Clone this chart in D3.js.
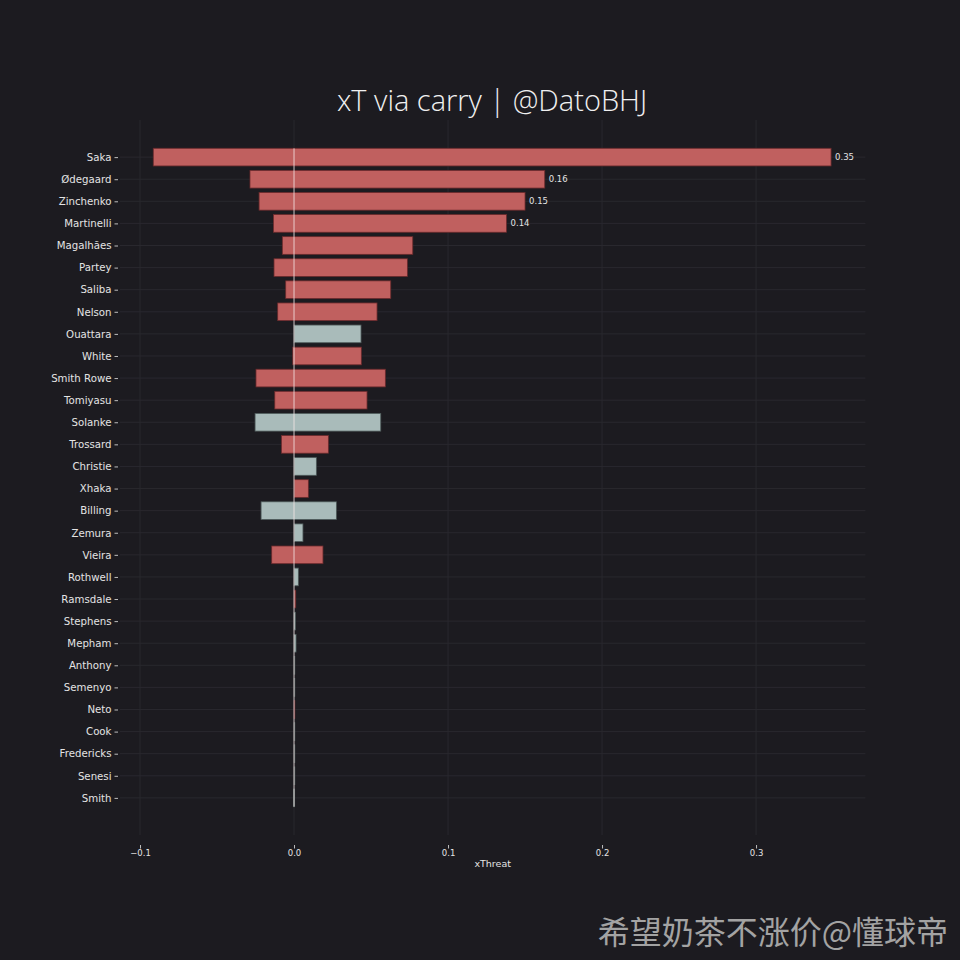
<!DOCTYPE html>
<html>
<head>
<meta charset="utf-8">
<script src="https://cdn.jsdelivr.net/npm/d3@7"></script>
<style>
  html, body { margin: 0; padding: 0; background: #1c1b20; }
  svg { display: block; }
</style>
</head>
<body>
<svg width="960" height="960"></svg>
<script>
// Data
const players = ["Saka", "Ødegaard", "Zinchenko", "Martinelli", "Magalhães", "Partey", "Saliba", "Nelson",
  "Ouattara", "White", "Smith Rowe", "Tomiyasu", "Solanke", "Trossard", "Christie", "Xhaka", "Billing",
  "Zemura", "Vieira", "Rothwell", "Ramsdale", "Stephens", "Mepham", "Anthony", "Semenyo", "Neto", "Cook",
  "Fredericks", "Senesi", "Smith"];
const xtGained = [0.3487, 0.1628, 0.150, 0.138, 0.0771, 0.0736, 0.0628, 0.0539,
  0.0435, 0.0437, 0.0593, 0.0474, 0.0563, 0.0223, 0.0145, 0.0093, 0.0275,
  0.0058, 0.0188, 0.0028, 0.0011, 0.0009, 0.0013, 0.0003, 0.0003, 0.0003, 0.0003,
  0.0003, 0.0003, 0.0004];
const xtLost = [-0.0914, -0.0286, -0.0227, -0.0134, -0.0076, -0.013, -0.0054, -0.0106,
  0, -0.0008, -0.0247, -0.0125, -0.0253, -0.0082, 0, 0, -0.0214,
  0, -0.0145, 0, 0, 0, 0, 0, 0, 0, 0,
  0, 0, -0.0004];
// a = Arsenal, b = Bournemouth
const teams = ["a", "a", "a", "a", "a", "a", "a", "a",
  "b", "a", "a", "a", "b", "a", "b", "a", "b",
  "b", "a", "b", "a", "b", "b", "b", "b", "a", "b",
  "b", "b", "b"];
const xTicks = [-0.1, 0.0, 0.1, 0.2, 0.3];

const rows = players.map((name, i) => ({
  name, gained: xtGained[i], lost: xtLost[i], team: teams[i]
}));

// Config
const BG = "#1c1b20";
const GRID = "#29282e";
const TEXT = "#e4e4e4";
const FILL = { a: "#c0605f", b: "#a9bbba" };
const EDGE = { a: "#6a2a2c", b: "#4e5a5a" };

const svg = d3.select("svg");
svg.append("rect").attr("width", 960).attr("height", 960).attr("fill", BG);

const plotLeft = 120, plotRight = 865.4, plotTop = 120, plotBottom = 835;

const x = d3.scaleLinear().domain([-0.113, 0.371]).range([plotLeft, plotRight]);
const y = d3.scalePoint().domain(players).range([plotTop, plotBottom]).padding(1.68);
const barH = y.step() * 0.8;

// grid
svg.append("g").selectAll("line").data(xTicks).join("line")
  .attr("x1", d => x(d)).attr("x2", d => x(d))
  .attr("y1", plotTop).attr("y2", plotBottom)
  .attr("stroke", GRID).attr("stroke-width", 1);
svg.append("g").selectAll("line").data(players).join("line")
  .attr("x1", plotLeft).attr("x2", plotRight)
  .attr("y1", d => y(d)).attr("y2", d => y(d))
  .attr("stroke", GRID).attr("stroke-width", 1);

// bars: one span from lost to gained
svg.append("g").selectAll("rect").data(rows).join("rect")
  .attr("x", d => x(d.lost))
  .attr("y", d => y(d.name) - barH / 2)
  .attr("width", d => Math.max(0.8, x(d.gained) - x(d.lost)))
  .attr("height", barH)
  .attr("fill", d => FILL[d.team])
  .attr("stroke", d => EDGE[d.team])
  .attr("stroke-width", 0.8);

// zero line
svg.append("line")
  .attr("x1", x(0)).attr("x2", x(0))
  .attr("y1", y(players[0]) - barH / 2)
  .attr("y2", y(players[players.length - 1]) + barH / 2)
  .attr("stroke", "#f4e6e6").attr("stroke-opacity", 0.8).attr("stroke-width", 1);

// value labels on the big ones
svg.append("g").selectAll("text").data(rows.filter(d => d.gained > 0.1)).join("text")
  .attr("x", d => x(d.gained) + 4)
  .attr("y", d => y(d.name))
  .attr("dy", "0.35em")
  .attr("fill", TEXT)
  .attr("font-family", "DejaVu Sans, sans-serif")
  .attr("font-size", 8.5)
  .text(d => d3.format(".2f")(d.gained));

// y axis
const yAxis = svg.append("g")
  .attr("transform", `translate(${plotLeft - 2},0)`)
  .call(d3.axisLeft(y).tickSize(3.5).tickPadding(3));
yAxis.select(".domain").remove();
yAxis.selectAll("line").attr("stroke", "#bdbdbd");
yAxis.selectAll("text")
  .attr("fill", TEXT)
  .attr("font-family", "DejaVu Sans, sans-serif")
  .attr("font-size", 10.2);

// x axis
const xAxis = svg.append("g")
  .attr("transform", `translate(0,${plotBottom + 10})`)
  .call(d3.axisBottom(x).tickValues(xTicks).tickSize(3.5).tickPadding(1.5)
    .tickFormat(d => d3.format(".1f")(d).replace("-", "−")));
xAxis.select(".domain").remove();
xAxis.selectAll("line").attr("stroke", "#bdbdbd");
xAxis.selectAll("text")
  .attr("fill", TEXT)
  .attr("font-family", "DejaVu Sans, sans-serif")
  .attr("font-size", 8.5);

svg.append("text")
  .attr("x", (plotLeft + plotRight) / 2).attr("y", 867)
  .attr("text-anchor", "middle")
  .attr("fill", TEXT)
  .attr("font-family", "DejaVu Sans, sans-serif")
  .attr("font-size", 9.5)
  .text("xThreat");

// title
svg.append("text")
  .attr("x", 492).attr("y", 111)
  .attr("text-anchor", "middle")
  .attr("fill", "#f0f0f0")
  .attr("font-family", "Open Sans, sans-serif")
  .attr("font-weight", 300)
  .attr("font-size", 29)
  .text("xT via carry | @DatoBHJ");

// watermark
svg.append("text")
  .attr("x", 948).attr("y", 944)
  .attr("text-anchor", "end")
  .attr("fill", "#a3a3a3")
  .attr("font-family", "Noto Sans CJK SC, sans-serif")
  .attr("font-size", 32)
  .text("希望奶茶不涨价@懂球帝");
</script>
</body>
</html>
